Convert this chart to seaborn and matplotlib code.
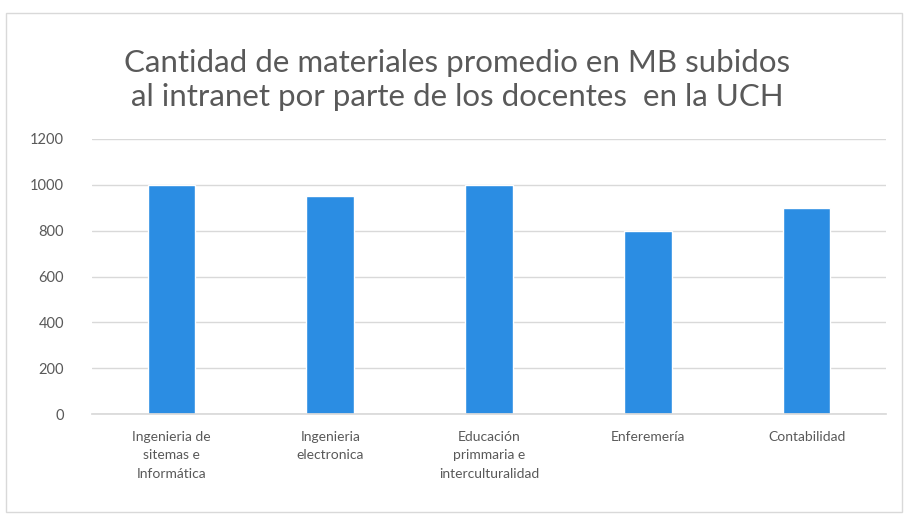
import matplotlib
matplotlib.use("Agg")
import matplotlib.pyplot as plt
import seaborn as sns
import pandas as pd
from matplotlib.patches import Rectangle

categories = ["Ingenieria de\nsitemas e\nInformática", "Ingenieria\nelectronica",
              "Educación\nprimmaria e\ninterculturalidad", "Enferemería", "Contabilidad"]
values = [1000, 950, 1000, 800, 900]
yticks = [0, 200, 400, 600, 800, 1000, 1200]
title = "Cantidad de materiales promedio en MB subidos\nal intranet por parte de los docentes  en la UCH"

sns.set_theme(style="white")
plt.rcParams['font.family'] = ['Lato', 'DejaVu Sans']

df = pd.DataFrame({"cat": categories, "val": values})

fig = plt.figure(figsize=(9.05, 5.14), dpi=100)
ax = fig.add_axes([92/905, 1-414/514, (886-92)/905, 275/514])
sns.barplot(data=df, x="cat", y="val", color="#2B8DE3", width=0.30, ax=ax, saturation=1)
ax.set_ylim(0, 1200)
ax.set_yticks(yticks)
ax.set_xlim(-0.5, 4.5)
ax.yaxis.grid(True, color="#d9d9d9", linewidth=1)
ax.set_axisbelow(True)
for s in ["top", "right", "left"]:
    ax.spines[s].set_visible(False)
ax.spines["bottom"].set_color("#d9d9d9")
ax.set_xlabel("")
ax.set_ylabel("")
ax.tick_params(axis="y", colors="#595959", labelsize=10.5, length=0, pad=20)
ax.tick_params(axis="x", colors="#595959", labelsize=10, length=0, pad=12)
for lbl in ax.get_xticklabels():
    lbl.set_linespacing(1.65)

fig.text(0.505, 1-80/514, title, ha="center", va="center", fontsize=22.5,
         color="#595959", linespacing=1.3)
fig.patches.append(Rectangle((6/905, 2/514), 896/905, 499/514, transform=fig.transFigure,
                             fill=False, edgecolor="#d9d9d9", linewidth=1))
fig.savefig("out.png", dpi=100)
